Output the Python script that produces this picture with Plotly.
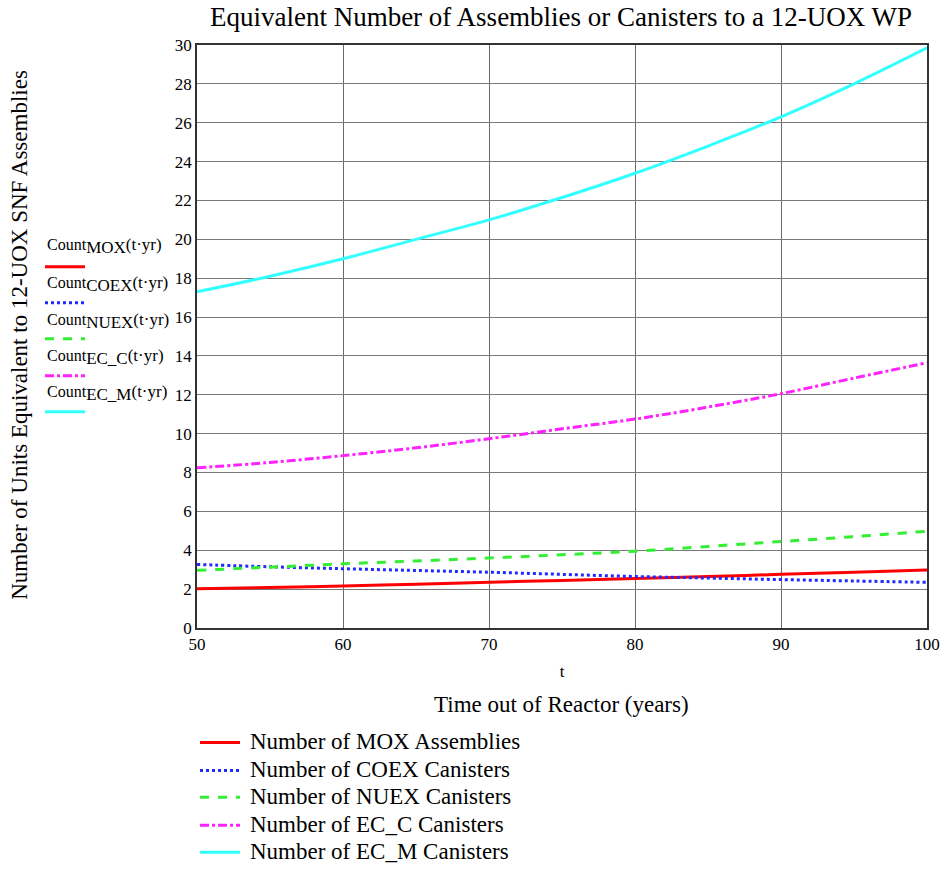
import plotly.graph_objects as go

# ---------------- data ----------------
t_years = [50, 55, 60, 65, 70, 75, 80, 85, 90, 95, 100]
count_mox = [2.02, 2.08, 2.16, 2.25, 2.35, 2.45, 2.55, 2.65, 2.76, 2.87, 2.98]
count_coex = [3.27, 3.15, 3.05, 2.96, 2.87, 2.76, 2.65, 2.57, 2.49, 2.42, 2.35]
count_nuex = [2.97, 3.13, 3.30, 3.45, 3.60, 3.77, 3.95, 4.20, 4.45, 4.70, 4.98]
count_ec_c = [8.24, 8.52, 8.87, 9.27, 9.74, 10.25, 10.75, 11.37, 12.06, 12.86, 13.65]
count_ec_m = [17.3, 18.1, 19.0, 20.0, 21.0, 22.15, 23.4, 24.8, 26.3, 28.0, 29.85]

series_names = ["Number of MOX Assemblies", "Number of COEX Canisters",
                "Number of NUEX Canisters", "Number of EC_C Canisters",
                "Number of EC_M Canisters"]
series_subs = ["MOX", "COEX", "NUEX", "EC_C", "EC_M"]
series_values = [count_mox, count_coex, count_nuex, count_ec_c, count_ec_m]
series_colors = ["#ff0000", "#1f2bff", "#33ee33", "#ff22ff", "#33ffff"]
series_dash = ["solid", "dot", "dash", "dashdot", "solid"]

x_ticks = [50, 60, 70, 80, 90, 100]
y_ticks = list(range(0, 31, 2))

FONT = "Liberation Serif, Times New Roman, serif"

# ---------------- layout geometry ----------------
W, H = 944, 869
PLOT_L, PLOT_R, PLOT_T, PLOT_B = 197, 927, 45, 628.5   # screen pixels
ML = PLOT_L
MT = PLOT_T
MR = W - PLOT_R
MB = H - PLOT_B
PW = PLOT_R - PLOT_L
PH = PLOT_B - PLOT_T


def px_x(sx):
    return (sx - PLOT_L) / PW


def px_y(sy):
    return (PLOT_B - sy) / PH


fig = go.Figure()
for name, vals, col, dash in zip(series_names, series_values, series_colors, series_dash):
    fig.add_trace(go.Scatter(
        x=t_years, y=vals, mode="lines", name=name, showlegend=False,
        line=dict(color=col, width=3, dash=dash, shape="spline"),
    ))

annotations = [
    dict(text="Time out of Reactor (years)", xref="paper", yref="paper",
         x=px_x(561), y=px_y(705), xanchor="center", yanchor="middle",
         showarrow=False, font=dict(family=FONT, size=23, color="#000")),
    dict(text="Number of Units Equivalent to 12-UOX SNF Assemblies",
         xref="paper", yref="paper", x=px_x(20), y=px_y(335),
         xanchor="center", yanchor="middle", textangle=-90,
         showarrow=False, font=dict(family=FONT, size=23, color="#000")),
]
shapes = []

# Mathcad-style trace labels on the left
label_text_y = [246, 284, 321, 357, 393]
label_line_y = [267, 303, 339, 376, 412]
for sub, col, dash, ty, ly in zip(series_subs, series_colors, series_dash,
                                  label_text_y, label_line_y):
    annotations.append(dict(
        text=("Count<sub><span style='font-size:17px'>%s</span></sub>"
              "<span style='font-size:17px'>(t·yr)</span>" % sub),
        xref="paper", yref="paper", x=px_x(45), y=px_y(ty),
        xanchor="left", yanchor="middle", showarrow=False,
        font=dict(family=FONT, size=16, color="#000")))
    shapes.append(dict(type="line", xref="paper", yref="paper",
                       x0=px_x(45), x1=px_x(85), y0=px_y(ly), y1=px_y(ly),
                       line=dict(color=col, width=3, dash=dash)))

# Legend below the chart
legend_y = [743, 771, 798, 826, 853]
for name, col, dash, ly in zip(series_names, series_colors, series_dash, legend_y):
    shapes.append(dict(type="line", xref="paper", yref="paper",
                       x0=px_x(200), x1=px_x(240), y0=px_y(ly), y1=px_y(ly),
                       line=dict(color=col, width=3, dash=dash)))
    annotations.append(dict(
        text=name, xref="paper", yref="paper", x=px_x(248), y=px_y(ly - 1),
        xanchor="left", yanchor="middle", showarrow=False,
        font=dict(family=FONT, size=23, color="#000")))

fig.update_layout(
    width=W, height=H,
    margin=dict(l=ML, r=MR, t=MT, b=MB, autoexpand=False),
    paper_bgcolor="white", plot_bgcolor="white",
    font=dict(family=FONT, size=16, color="#000"),
    title=dict(text="Equivalent Number of Assemblies or Canisters to a 12-UOX WP",
               x=px_x(561), xref="paper", xanchor="center",
               y=1 - 17 / H, yref="container", yanchor="middle",
               font=dict(family=FONT, size=27, color="#000")),
    xaxis=dict(range=[50, 100], tickvals=x_ticks, ticks="", showgrid=True,
               gridcolor="#6a6a6a", gridwidth=1, zeroline=False,
               showline=True, linecolor="#333", linewidth=1.5, mirror=True,
               tickfont=dict(family=FONT, size=17),
               title=dict(text="t", standoff=12, font=dict(family=FONT, size=17))),
    yaxis=dict(range=[0, 30], tickvals=y_ticks, ticks="", showgrid=True,
               gridcolor="#7a7a7a", gridwidth=1, zeroline=False,
               showline=True, linecolor="#333", linewidth=1.5, mirror=True,
               tickfont=dict(family=FONT, size=17)),
    showlegend=False,
    annotations=annotations,
    shapes=shapes,
)

# remove the default 8px page margin so the figure fills the 944x869 window
fig.write_html("out.html",
               config={"displayModeBar": False},
               post_script="document.body.style.margin='0';"
                           "document.body.style.overflow='hidden';")
